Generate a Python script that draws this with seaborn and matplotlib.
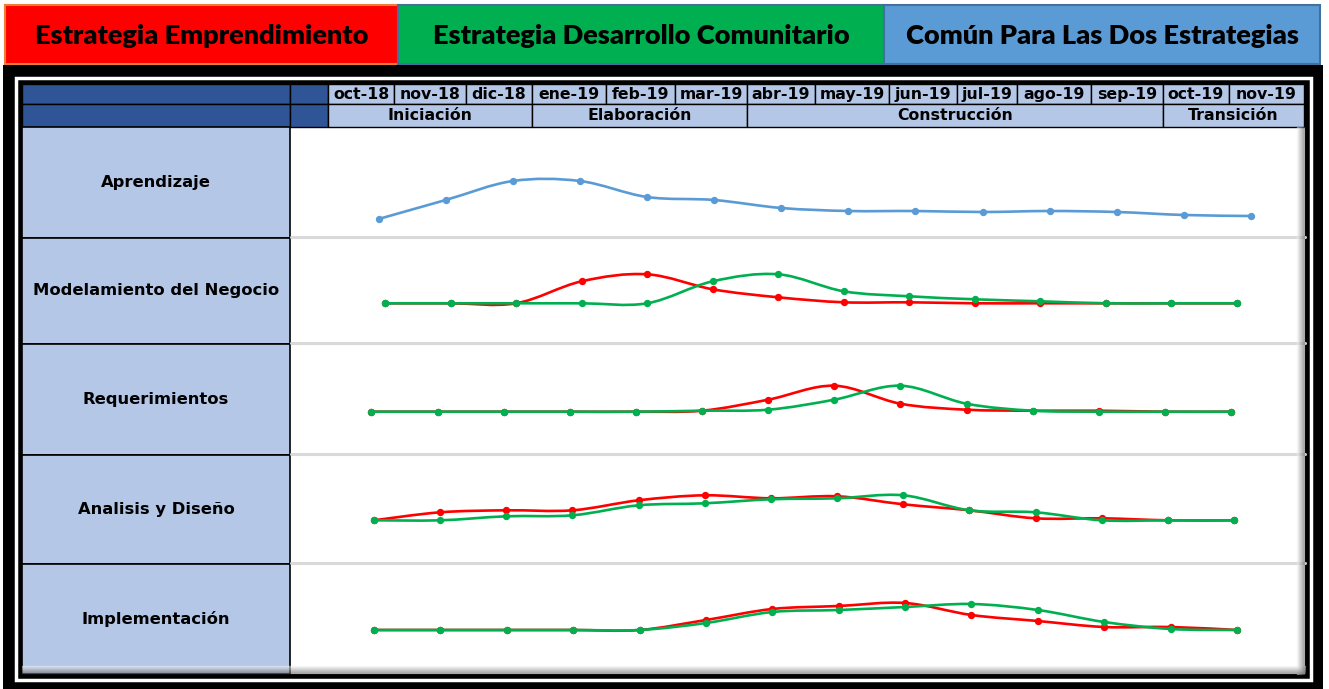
import numpy as np
import matplotlib
matplotlib.use("Agg")
import matplotlib.pyplot as plt
import seaborn as sns
from matplotlib.patches import Rectangle, PathPatch
from matplotlib.path import Path

# values (relative effort, 0 = flat baseline of each row)
months = ['oct-18', 'nov-18', 'dic-18', 'ene-19', 'feb-19', 'mar-19', 'abr-19',
          'may-19', 'jun-19', 'jul-19', 'ago-19', 'sep-19', 'oct-19', 'nov-19']
phases = ['Iniciación', 'Elaboración', 'Construcción', 'Transición']
phase_months = [3, 3, 6, 2]
disciplines = ['Aprendizaje', 'Modelamiento del Negocio', 'Requerimientos',
               'Analisis y Diseño', 'Implementación']
legend_labels = ['Estrategia Emprendimiento', 'Estrategia Desarrollo Comunitario',
                 'Común Para Las Dos Estrategias']

aprendizaje_comun = [19, 38, 57, 57, 41, 38, 30, 27, 27, 26, 27, 26, 23, 22]
modelamiento_emp = [0, 0, 0, 22, 29, 14, 6, 1, 1, 0, 0, 0, 0, 0]
modelamiento_com = [0, 0, 0, 0, 0, 22, 29, 12, 7, 4, 2, 0, 0, 0]
requerimientos_emp = [0, 0, 0, 0, 0, 1, 12, 26, 8, 2, 1, 1, 0, 0]
requerimientos_com = [0, 0, 0, 0, 0, 1, 2, 12, 26, 8, 1, 0, 0, 0]
analisis_emp = [0, 8, 10, 10, 20, 25, 22, 24, 16, 10, 2, 2, 0, 0]
analisis_com = [0, 0, 4, 5, 15, 17, 21, 22, 25, 10, 8, 0, 0, 0]
implementacion_emp = [0, 0, 0, 0, 0, 10, 21, 24, 27, 15, 9, 3, 3, 0]
implementacion_com = [0, 0, 0, 0, 0, 7, 18, 20, 23, 26, 20, 8, 1, 0]

RED, GREEN, BLUE = '#FF0000', '#00B050', '#5B9BD5'
LIGHT, DARK = '#B4C7E7', '#2F5597'

series = [
    [(aprendizaje_comun, BLUE)],
    [(modelamiento_emp, RED), (modelamiento_com, GREEN)],
    [(requerimientos_emp, RED), (requerimientos_com, GREEN)],
    [(analisis_emp, RED), (analisis_com, GREEN)],
    [(implementacion_emp, RED), (implementacion_com, GREEN)],
]

# layout in pixels
W, H = 1329, 689
month_edges = [328, 394, 466, 532, 606, 675, 747, 815, 889, 957, 1017, 1091, 1163, 1229, 1304]
row_edges = [127, 238, 344, 455, 564, 674]
row_base = [238, 303.3, 411.7, 520.3, 630]
row_first_x = [378.6, 385, 371.4, 374, 374]
row_last_x = [1251, 1237, 1231, 1234, 1237]
legend_boxes = [(5, 398, RED, '#ED7D31'), (398, 884, GREEN, '#41719C'), (884, 1320, BLUE, '#41719C')]


def smooth_path(xs, ys):
    # excel-like smoothed line: cubic bezier through every point
    pts = np.column_stack([xs, ys]).astype(float)
    n = len(pts)
    verts, codes = [pts[0]], [Path.MOVETO]
    for i in range(n - 1):
        p0, p1 = pts[max(i - 1, 0)], pts[i]
        p2, p3 = pts[i + 1], pts[min(i + 2, n - 1)]
        verts += [p1 + (p2 - p0) / 6, p2 - (p3 - p1) / 6, p2]
        codes += [Path.CURVE4] * 3
    return Path(verts, codes)


def px_axes(x0, y0, x1, y1):
    return fig.add_axes([x0 / W, 1 - y1 / H, (x1 - x0) / W, (y1 - y0) / H])


sns.set_style("white")
plt.rcParams['font.family'] = ['DejaVu Sans']
plt.rcParams['text.color'] = 'black'

fig = plt.figure(figsize=(W / 100, H / 100), dpi=100)
bg = fig.add_axes([0, 0, 1, 1])
bg.set_xlim(0, W)
bg.set_ylim(H, 0)
bg.axis('off')

# legend boxes
for (x0, x1, fc, ec), label in zip(legend_boxes, legend_labels):
    bg.add_patch(Rectangle((x0, 5), x1 - x0, 59, fc=fc, ec=ec, lw=1.5))
    bg.text((x0 + x1) / 2, 36, label, ha='center', va='center', fontsize=19.5,
            fontweight='heavy', family=['Lato', 'DejaVu Sans'], color='black')

# black frame with white inner line
bg.add_patch(Rectangle((3, 65), 1320, 624, fc='black', ec='none'))
bg.add_patch(Rectangle((15.5, 78), 1295, 602, fc='none', ec='white', lw=2.5))
bg.add_patch(Rectangle((22, 84), 1283, 590, fc='white', ec='none'))

# header rows
for y0, y1 in [(84, 104), (104, 127)]:
    bg.add_patch(Rectangle((22, y0), 268, y1 - y0, fc=DARK, ec='black', lw=1))
    bg.add_patch(Rectangle((290, y0), 38, y1 - y0, fc=DARK, ec='black', lw=1))
for i, m in enumerate(months):
    x0, x1 = month_edges[i], month_edges[i + 1]
    bg.add_patch(Rectangle((x0, 84), x1 - x0, 20, fc=LIGHT, ec='black', lw=1))
    bg.text((x0 + x1) / 2, 94.5, m, ha='center', va='center', fontsize=11.3,
            fontweight='bold', color='black')
k = 0
for p, n in zip(phases, phase_months):
    x0, x1 = month_edges[k], month_edges[k + n]
    k += n
    bg.add_patch(Rectangle((x0, 104), x1 - x0, 23, fc=LIGHT, ec='black', lw=1))
    bg.text((x0 + x1) / 2, 116, p, ha='center', va='center', fontsize=11.3,
            fontweight='bold', color='black')

# row label column and separators
for i, d in enumerate(disciplines):
    y0, y1 = row_edges[i], row_edges[i + 1]
    bg.add_patch(Rectangle((22, y0), 268, y1 - y0, fc=LIGHT, ec='black', lw=1.2))
    bg.text(156, (y0 + y1) / 2, d, ha='center', va='center', fontsize=11.8,
            fontweight='bold', color='black')
for y in row_edges[1:-1]:
    bg.plot([291, 1305], [y - 1.5, y - 1.5], color='#D9D9D9', lw=2.2)

# soft shadow on the right/bottom edge of the table
for j in range(8):
    g = str(0.95 - j * 0.08)
    bg.plot([1297 + j, 1297 + j], [127, 674], color=g, lw=1, alpha=0.5)
    bg.plot([22, 1305], [666 + j, 666 + j], color=g, lw=1, alpha=0.5)

# one small chart per discipline
idx = np.arange(len(months))
for r, lines in enumerate(series):
    top, bottom, base = row_edges[r], row_edges[r + 1], row_base[r]
    xa, xb = row_first_x[r], row_last_x[r]
    step = (xb - xa) / (len(months) - 1)
    ax = px_axes(290, top, 1305, bottom)
    ax.set_facecolor('none')
    z = 2
    for vals, color in lines:
        ax.add_patch(PathPatch(smooth_path(idx, vals), fill=False, ec=color,
                               lw=1.9, capstyle='round', zorder=z))
        sns.scatterplot(x=idx, y=vals, color=color, s=28, linewidth=0, ax=ax,
                        zorder=z + 1)
        z += 2
    ax.set_xlim((290 - xa) / step, len(months) - 1 + (1305 - xb) / step)
    ax.set_ylim(-(bottom - base), base - top)
    ax.axis('off')

fig.savefig('out.png', dpi=100)
